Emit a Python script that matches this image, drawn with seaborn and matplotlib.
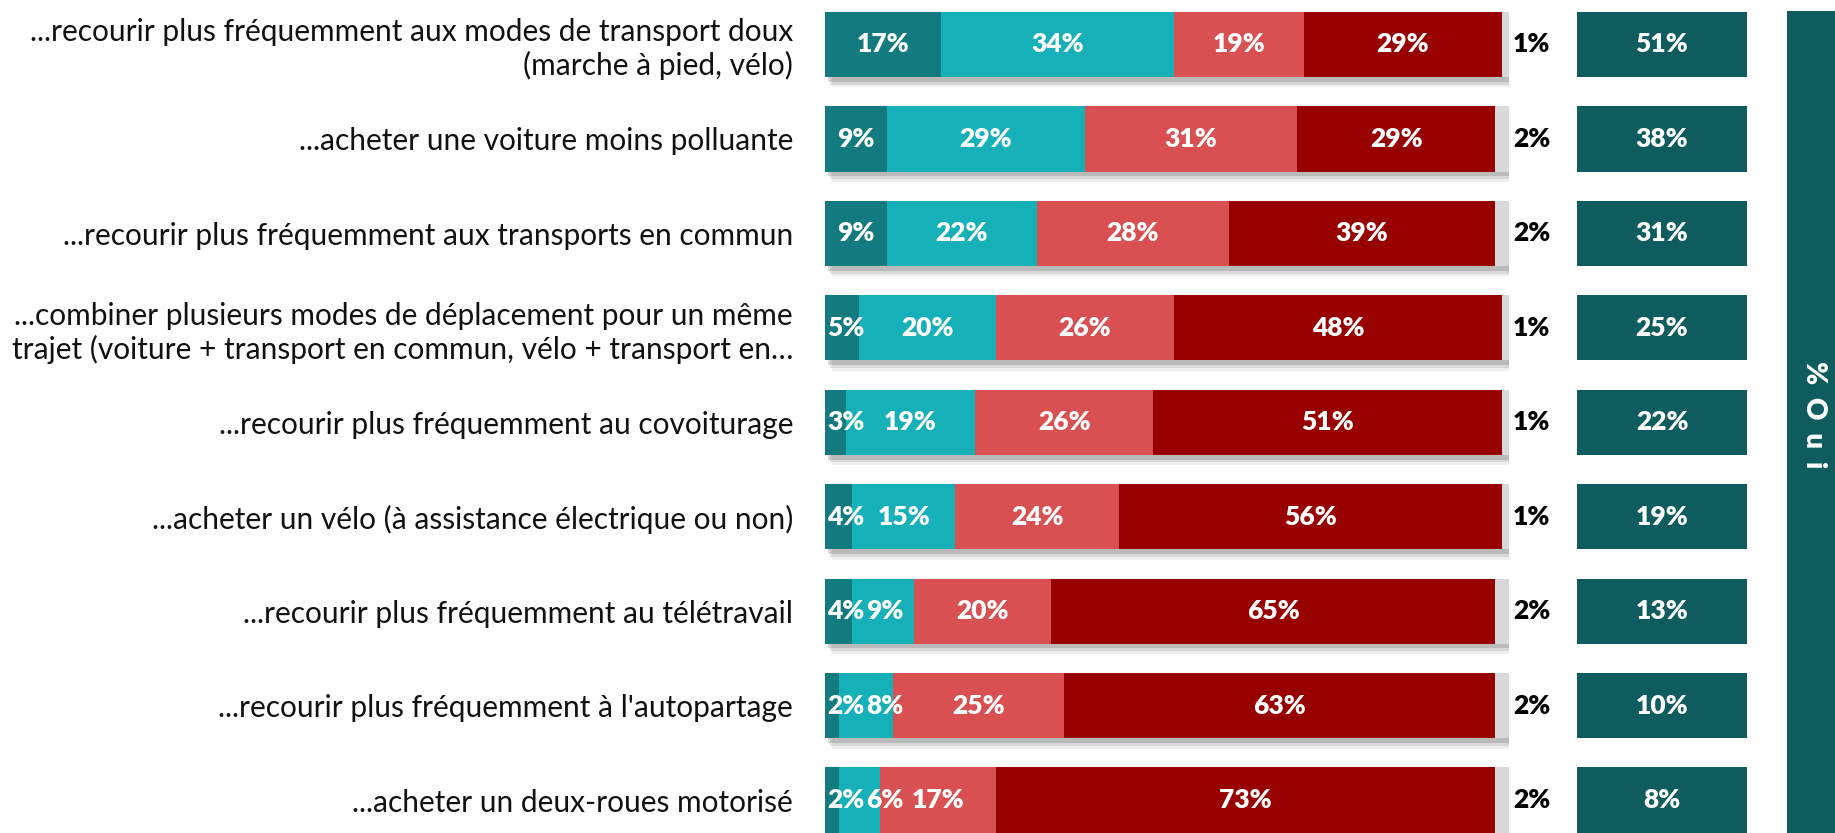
import numpy as np
import pandas as pd
import matplotlib.pyplot as plt
import seaborn as sns
from matplotlib.patches import Rectangle

# libellés des items
items = [
    "...recourir plus fréquemment aux modes de transport doux\n(marche à pied, vélo)",
    "...acheter une voiture moins polluante",
    "...recourir plus fréquemment aux transports en commun",
    "...combiner plusieurs modes de déplacement pour un même\ntrajet (voiture + transport en commun, vélo + transport en…",
    "...recourir plus fréquemment au covoiturage",
    "...acheter un vélo (à assistance électrique ou non)",
    "...recourir plus fréquemment au télétravail",
    "...recourir plus fréquemment à l'autopartage",
    "...acheter un deux-roues motorisé",
]

# répartition des réponses (%)
oui_certainement = [17, 9, 9, 5, 3, 4, 4, 2, 2]
oui_probablement = [34, 29, 22, 20, 19, 15, 9, 8, 6]
non_probablement = [19, 31, 28, 26, 26, 24, 20, 25, 17]
non_certainement = [29, 29, 39, 48, 51, 56, 65, 63, 73]
nsp = [1, 2, 2, 1, 1, 1, 2, 2, 2]
total_oui = [51, 38, 31, 25, 22, 19, 13, 10, 8]

couleurs = ["#137a80", "#15b0b8", "#d95052", "#980000", "#d9d9d9"]
couleur_oui = "#0f5c5f"

sns.set_theme(style="white")
plt.rcParams["font.family"] = ["Lato", "DejaVu Sans"]

W, H = 1835, 833
fig = plt.figure(figsize=(W / 100, H / 100), dpi=100)

ax = fig.add_axes([825 / W, 0, 684 / W, 1])
series = [oui_certainement, oui_probablement, non_probablement, non_certainement, nsp]
cumul = np.cumsum(np.array(series), axis=0)

# barres empilées : on dessine les cumuls du plus grand au plus petit
for k in reversed(range(len(series))):
    df = pd.DataFrame({"item": items, "val": cumul[k]})
    sns.barplot(data=df, x="val", y="item", orient="h", color=couleurs[k],
                saturation=1, width=0.69, ax=ax, zorder=2, linewidth=0)

# ombre portée
pos = np.arange(len(items))
for dx, dy, a in [(0.4, 0.05, 0.22), (0.7, 0.08, 0.15), (1.0, 0.11, 0.09)]:
    ax.barh(pos + dy, cumul[-1], left=dx, height=0.69, color="#555555",
            alpha=a, zorder=1, linewidth=0)

# étiquettes dans les segments
for i in range(len(items)):
    prev_x = None
    left = 0
    for k in range(4):
        v = series[k][i]
        c = left + v / 2
        if prev_x is None:
            x = max(c, 3.0)
        else:
            x = max(c, prev_x + 5.8)
        ax.text(x, i, f"{v}%", ha="center", va="center", color="white",
                fontsize=19, fontweight="heavy", zorder=5)
        prev_x = x
        left += v
    ax.text(cumul[-1][i] + 0.6, i, f"{nsp[i]}%", ha="left", va="center",
            color="black", fontsize=19, fontweight="heavy", zorder=5)

ax.set_xlim(0, 100)
ax.set_ylim(8.349, -0.471)
ax.set_xlabel("")
ax.set_ylabel("")
ax.set_xticks([])
ax.tick_params(axis="y", length=0, pad=23, labelsize=21.5, labelcolor="#111111")
sns.despine(ax=ax, left=True, bottom=True)

# colonne "% Oui"
ax2 = fig.add_axes([1577 / W, 0, 170 / W, 1])
df_oui = pd.DataFrame({"item": items, "box": [1] * len(items)})
sns.barplot(data=df_oui, x="box", y="item", orient="h", color=couleur_oui,
            saturation=1, width=0.69, ax=ax2, linewidth=0)
for i, v in enumerate(total_oui):
    ax2.text(0.5, i, f"{v}%", ha="center", va="center", color="white",
             fontsize=19, fontweight="heavy")
ax2.set_xlim(0, 1)
ax2.set_ylim(8.349, -0.471)
ax2.axis("off")

# bandeau vertical
fig.add_artist(Rectangle((1787 / W, 0), 48 / W, (H - 11) / H,
                         transform=fig.transFigure, color=couleur_oui, lw=0))
fig.text(1814 / W, 1 - 415 / H, "%  O  u  i", rotation=-90, ha="center", va="center",
         color="white", fontsize=20, fontweight="heavy")

fig.savefig("out.png", dpi=100)
